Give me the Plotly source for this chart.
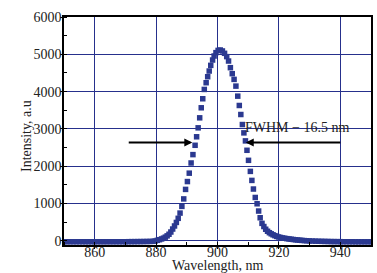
import plotly.graph_objects as go

wavelength = [850, 851, 852, 853, 854, 855, 856, 857, 858, 859, 860, 861, 862, 863, 864,
              865, 866, 867, 868, 869, 870, 871, 872, 873, 874, 875, 876, 877, 878,
              879.0, 879.7, 880.4, 881.1, 881.8, 882.4, 883.0, 883.6, 884.2, 884.8,
              885.4, 886.0, 886.6, 887.2, 887.8, 888.4, 889.0, 889.6, 890.2, 890.8,
              891.4, 892.0, 892.7, 893.2, 893.7, 894.2, 894.7, 895.2, 895.7, 896.3,
              896.8, 897.3, 897.8, 898.4, 898.9, 899.5, 900.2, 900.9, 901.6, 902.3,
              903.0, 903.6, 904.2, 904.8, 905.4, 906.0, 906.6, 907.1, 907.6, 908.1,
              908.6, 909.1, 909.6, 910.1, 910.7, 911.2, 911.7, 912.3, 912.9, 913.4,
              913.9, 914.5, 915.1, 915.7, 916.3, 916.9, 917.5, 918.1, 918.7, 919.3,
              919.9, 920.5, 921.2, 921.9, 922.6, 923.3, 924.0, 924.7, 925.4, 926.1,
              926.8, 927.5, 928.3, 929.1, 930.0, 931, 932, 933, 934, 935, 936, 937,
              938, 939, 940, 941, 942, 943, 944, 945, 946, 947, 948, 949, 950]
intensity = [-22, -22, -22, -22, -22, -22, -22, -22, -22, -22, -22, -22, -22, -22, -22,
             -22, -22, -22, -22, -22, -22, -21, -20, -20, -19, -18, -17, -16, -14,
             -12, -2, 15, 32, 52, 73, 100, 135, 178, 238,
             318, 400, 495, 605, 745, 925, 1125, 1380, 1590, 1815,
             2088, 2312, 2562, 2790, 3030, 3298, 3567, 3809, 4059, 4239,
             4400, 4552, 4704, 4847, 4955, 5045, 5105, 5116, 5090, 5027,
             4938, 4820, 4642, 4481, 4328, 4148, 3879, 3629, 3387, 3118,
             2895, 2680, 2428, 2159, 1863, 1621, 1390, 1164, 995, 800,
             620, 470, 385, 312, 258, 220, 190, 163, 140, 120,
             105, 92, 80, 70, 60, 52, 44, 37, 30, 24,
             18, 13, 8, 4, 0, -4, -7, -10, -12, -14, -16, -18,
             -19, -20, -21, -22, -22, -23, -23, -24, -24, -24, -24, -24, -24]

fwhm_label = "FWHM − 16.5 nm"
x_title = "Wavelength, nm"
y_title = "Intensity, a.u"
arrow_left = (870.6, 891.8)
arrow_right = (940.5, 909.2)
arrow_level = 2640

navy = "rgb(43,57,144)"
grid = "rgb(38,48,140)"
font = "Liberation Serif"
text_color = "#222"

fig = go.Figure()
fig.add_trace(go.Scatter(
    x=wavelength, y=intensity, mode="markers",
    marker=dict(symbol="square", size=5.5, color=navy, line=dict(width=0)),
    showlegend=False,
))

fig.add_annotation(x=arrow_left[1], y=arrow_level, ax=arrow_left[0], ay=arrow_level,
                   xref="x", yref="y", axref="x", ayref="y", text="",
                   showarrow=True, arrowhead=2, arrowsize=0.8, arrowwidth=2, arrowcolor="black")
fig.add_annotation(x=arrow_right[1], y=arrow_level, ax=arrow_right[0], ay=arrow_level,
                   xref="x", yref="y", axref="x", ayref="y", text="",
                   showarrow=True, arrowhead=2, arrowsize=0.8, arrowwidth=2, arrowcolor="black")
fig.add_annotation(x=908.3, y=3050, xref="x", yref="y", text=fwhm_label,
                   showarrow=False, xanchor="left", yanchor="middle",
                   font=dict(family=font, size=14, color=text_color))
fig.add_annotation(x=0.5, y=0, xref="paper", yref="paper", text=x_title,
                   showarrow=False, xanchor="center", yanchor="bottom", yshift=-30,
                   font=dict(family=font, size=14, color=text_color))
fig.add_annotation(x=0, y=0.5, xref="paper", yref="paper", text=y_title, textangle=-90,
                   showarrow=False, xanchor="center", yanchor="middle", xshift=-38, yshift=-5,
                   font=dict(family=font, size=14, color=text_color))

axis_common = dict(
    showline=True, linecolor="black", linewidth=1.5, mirror=True,
    showgrid=True, gridcolor=grid, gridwidth=1, zeroline=False,
    ticks="outside", ticklen=2, tickcolor="black", automargin=False,
    tickfont=dict(family=font, size=14, color=text_color),
)

fig.update_xaxes(range=[850, 950], tickvals=[860, 880, 900, 920, 940], ticklabelstandoff=-9,
                 minor=dict(ticks="inside", ticklen=3, dtick=10, tick0=850, tickcolor="black", showgrid=False),
                 **axis_common)
fig.update_yaxes(range=[-110, 6000], tickvals=[0, 1000, 2000, 3000, 4000, 5000, 6000], ticklabelstandoff=-4,
                 minor=dict(ticks="inside", ticklen=3, dtick=500, tick0=0, tickcolor="black", showgrid=False),
                 **axis_common)

fig.update_layout(
    width=377, height=273,
    margin=dict(l=64, r=6, t=17, b=28, autoexpand=False),
    paper_bgcolor="white", plot_bgcolor="white",
)

fig.write_html("out.html", config={"displayModeBar": False},
               post_script="document.body.style.margin='0';document.body.style.padding='0';document.body.style.overflow='hidden';")
